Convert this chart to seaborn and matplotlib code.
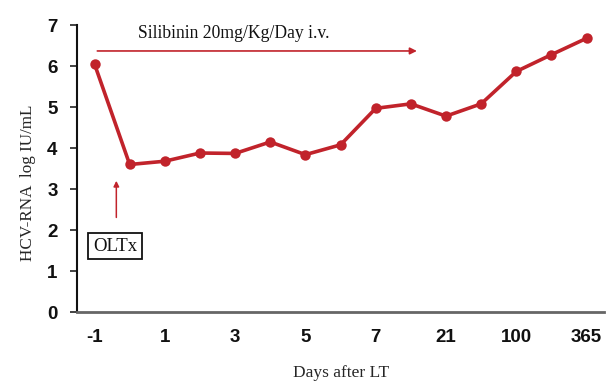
import matplotlib
matplotlib.use("Agg")
import matplotlib.pyplot as plt
import seaborn as sns
import pandas as pd

# Data
tick_labels = ["-1", "", "1", "", "3", "", "5", "", "7", "", "21", "", "100", "", "365"]
hcv_rna = [6.05, 3.6, 3.68, 3.88, 3.87, 4.15, 3.84, 4.08, 4.97, 5.08, 4.78, 5.08, 5.87, 6.28, 6.68]
positions = list(range(len(hcv_rna)))

df = pd.DataFrame({"pos": positions, "val": hcv_rna})

sns.set_style("white")
red = "#C1232B"

fig = plt.figure(figsize=(6.06, 3.81), dpi=100)
ax = fig.add_axes([0.127, 0.181, 0.870, 0.753])

sns.lineplot(data=df, x="pos", y="val", ax=ax, color=red, linewidth=2.6,
             marker="o", markersize=7.5, markeredgewidth=0, markeredgecolor=red)

ax.set_xlim(-0.5, 14.5)
ax.set_ylim(0, 7)
ax.set_yticks(range(0, 8))
ax.set_xticks(positions[::2])
ax.set_xticklabels([t for t in tick_labels if t != ""])

for lab in ax.get_xticklabels() + ax.get_yticklabels():
    lab.set_fontfamily("Liberation Sans")
    lab.set_fontweight("bold")
    lab.set_fontsize(13.5)
    lab.set_color("#111111")

ax.tick_params(axis="x", length=0, pad=12)
ax.tick_params(axis="y", length=5, width=1.2, color="#222222", pad=9, left=True)

for s in ["top", "right"]:
    ax.spines[s].set_visible(False)
ax.spines["left"].set_color("#111111")
ax.spines["left"].set_linewidth(1.5)
ax.spines["bottom"].set_color("#666666")
ax.spines["bottom"].set_linewidth(2)

ax.set_xlabel("Days after LT", fontfamily="Liberation Serif", fontsize=12.5)
ax.xaxis.set_label_coords(0.5, -0.183)
ax.set_ylabel("HCV-RNA  log IU/mL", fontfamily="Liberation Serif", fontsize=12.3)
ax.yaxis.set_label_coords(-0.077, 0.45)

# Silibinin arrow
ax.annotate("", xy=(9.25, 6.37), xytext=(0.0, 6.37),
            arrowprops=dict(arrowstyle="-|>", color=red, lw=1.2, mutation_scale=10))
ax.text(3.96, 6.8, "Silibinin 20mg/Kg/Day i.v.", fontfamily="Liberation Serif",
        fontsize=12.7, ha="center", va="center", color="#111111")

# OLTx arrow & box
ax.annotate("", xy=(0.62, 3.27), xytext=(0.62, 2.24),
            arrowprops=dict(arrowstyle="-|>", color=red, lw=1.1, mutation_scale=8))
ax.text(0.58, 1.61, "OLTx", fontfamily="Liberation Serif", fontsize=13.5,
        ha="center", va="center", color="#111111",
        bbox=dict(boxstyle="square,pad=0.25", facecolor="white", edgecolor="#111111", linewidth=1.3))

fig.savefig("out.png", dpi=100)
